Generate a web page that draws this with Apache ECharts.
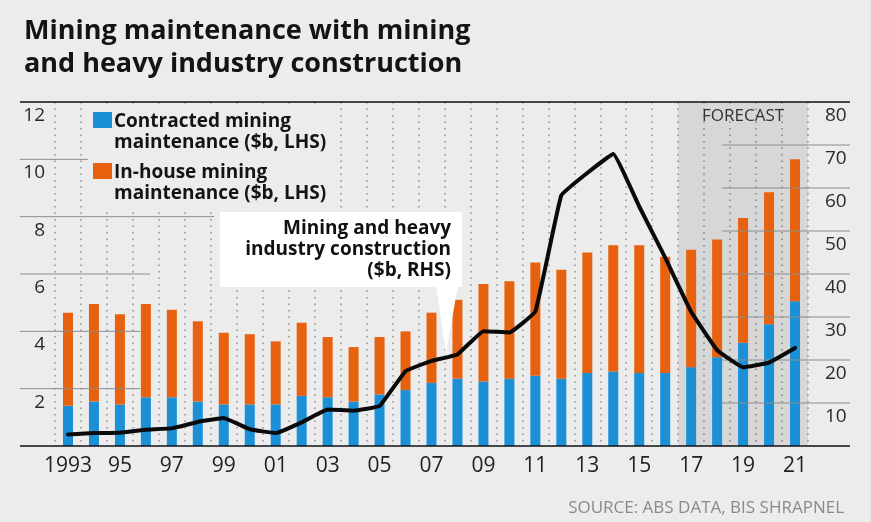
<!DOCTYPE html>
<html>
<head>
<meta charset="utf-8">
<script src="https://cdn.jsdelivr.net/npm/echarts@6/dist/echarts.min.js"></script>
<style>
  html, body { margin: 0; padding: 0; background: #ececec; }
  #chart { width: 871px; height: 522px; }
</style>
</head>
<body>
<div id="chart"></div>
<script>
// data
const years = ['1993', '1994', '1995', '1996', '1997', '1998', '1999', '2000', '2001', '2002',
  '2003', '2004', '2005', '2006', '2007', '2008', '2009', '2010', '2011', '2012',
  '2013', '2014', '2015', '2016', '2017', '2018', '2019', '2020', '2021']
// $b, left axis
const contracted = [1.4, 1.55, 1.45, 1.7, 1.7, 1.55, 1.45, 1.45, 1.45, 1.75,
  1.7, 1.55, 1.8, 1.95, 2.2, 2.35, 2.25, 2.35, 2.45, 2.35,
  2.55, 2.6, 2.55, 2.55, 2.75, 3.1, 3.6, 4.25, 5.05]
const inHouse = [3.25, 3.4, 3.15, 3.25, 3.05, 2.8, 2.5, 2.45, 2.2, 2.55,
  2.1, 1.9, 2.0, 2.05, 2.45, 2.75, 3.4, 3.4, 3.95, 3.8,
  4.2, 4.4, 4.45, 4.05, 4.1, 4.1, 4.35, 4.6, 4.95]
// $b, right axis
const construction = [2.7, 3.0, 3.1, 3.8, 4.1, 5.6, 6.5, 3.9, 3.0, 5.5,
  8.5, 8.2, 9.3, 17.4, 19.8, 21.3, 26.7, 26.4, 31.3, 58.3,
  63.5, 67.9, 55.7, 43.8, 31.2, 22.3, 18.3, 19.4, 22.8]
const forecastYears = ['2017', '2018', '2019', '2020', '2021']
const leftTicks = [2, 4, 6, 8, 10]
const rightTicks = [10, 20, 30, 40, 50, 60, 70]

const FONT = '"Open Sans", sans-serif'
const names = ['Contracted mining\nmaintenance ($b, LHS)', 'In-house mining\nmaintenance ($b, LHS)', 'Mining and heavy industry construction ($b, RHS)']
// square at the top of a two-line legend item
const legendIcon = 'path://M0,0h19v16h-19z M9,39.95h0.05v0.05h-0.05z'

const chart = echarts.init(document.getElementById('chart'))

chart.setOption({
  backgroundColor: '#ececec',
  animation: false,
  textStyle: {fontFamily: FONT},
  title: [
    {
      text: 'Mining maintenance with mining\nand heavy industry construction',
      left: 19,
      top: 10,
      textStyle: {fontSize: 27, fontWeight: 'bold', color: '#141414', lineHeight: 33, fontFamily: FONT}
    },
    {
      text: 'SOURCE: ABS DATA, BIS SHRAPNEL',
      right: 22,
      top: 495,
      textStyle: {fontSize: 17, fontWeight: 'normal', color: '#8a8a8a', fontFamily: FONT}
    }
  ],
  legend: {
    data: [names[0], names[1]],
    orient: 'vertical',
    left: 88,
    top: 105,
    padding: [6, 8, 6, 5],
    backgroundColor: '#ececec',
    itemWidth: 19,
    itemHeight: 40,
    itemGap: 9,
    icon: legendIcon,
    selectedMode: false,
    textStyle: {fontSize: 19, fontWeight: 'bold', color: '#141414', lineHeight: 21, padding: [0, 0, 0, -3]}
  },
  grid: {left: 55, right: 63, top: 102, bottom: 76},
  xAxis: [
    {
      type: 'category',
      data: years,
      boundaryGap: true,
      axisLine: {show: false},
      axisTick: {show: false},
      axisLabel: {
        interval: 1,
        margin: 10,
        fontSize: 21,
        color: '#222',
        formatter: (v, i) => i === 0 ? v : v.slice(2)
      },
      splitLine: {show: true, interval: 0, lineStyle: {color: '#8f8f8f', width: 1.5, type: [1.5, 5]}}
    },
    {
      type: 'category',
      data: years,
      show: false
    }
  ],
  yAxis: [
    {
      type: 'value',
      min: 0,
      max: 12,
      interval: 2,
      position: 'left',
      splitLine: {show: false},
      axisLabel: {
        showMinLabel: false,
        verticalAlign: 'top',
        padding: [4, 0, 0, 0],
        margin: 10,
        fontSize: 19,
        color: '#2a2a2a'
      }
    },
    {
      type: 'value',
      min: 0,
      max: 80,
      interval: 10,
      position: 'right',
      splitLine: {show: false},
      axisLabel: {
        showMinLabel: false,
        verticalAlign: 'top',
        padding: [4, 0, 0, 0],
        margin: 17,
        fontSize: 19,
        color: '#2a2a2a'
      }
    }
  ],
  series: [
    {
      name: 'forecast',
      type: 'bar',
      xAxisIndex: 1,
      yAxisIndex: 0,
      barWidth: '100%',
      z: 1,
      silent: true,
      itemStyle: {color: 'rgba(0,0,0,0.085)'},
      data: years.map(y => forecastYears.includes(y) ? 12 : '-')
    },
    {
      name: names[0],
      type: 'bar',
      stack: 'maint',
      barWidth: 10,
      itemStyle: {color: '#1b90d7'},
      data: contracted
    },
    {
      name: names[1],
      type: 'bar',
      stack: 'maint',
      barWidth: 10,
      itemStyle: {color: '#e8610f'},
      data: inHouse
    },
    {
      name: names[2],
      type: 'line',
      yAxisIndex: 1,
      smooth: 0.08,
      symbol: 'none',
      z: 6,
      lineStyle: {color: '#0a0a0a', width: 4, cap: 'round', join: 'round'},
      data: construction
    }
  ]
})

// rules, partial grid lines and the callouts, placed from the axis scales
const yL = v => chart.convertToPixel({yAxisIndex: 0}, v)
const yR = v => chart.convertToPixel({yAxisIndex: 1}, v)
const leftEnds = {2: 140, 4: 140, 6: 150, 8: 214, 10: 90}
const els = []
els.push({type: 'line', z: 5, shape: {x1: 20, y1: yL(12), x2: 850, y2: yL(12)}, style: {stroke: '#111', lineWidth: 1.5}})
els.push({type: 'line', z: 5, shape: {x1: 20, y1: yL(0), x2: 850, y2: yL(0)}, style: {stroke: '#111', lineWidth: 1.5}})
leftTicks.forEach(v => {
  els.push({type: 'line', z: 3, shape: {x1: 20, y1: yL(v), x2: leftEnds[v], y2: yL(v)}, style: {stroke: '#8c8c8c', lineWidth: 1}})
})
rightTicks.forEach(v => {
  els.push({type: 'line', z: 3, shape: {x1: 722, y1: yR(v), x2: 850, y2: yR(v)}, style: {stroke: '#8c8c8c', lineWidth: 1}})
})
els.push({
  type: 'text', z: 5,
  x: chart.convertToPixel({xAxisIndex: 0}, '2019'),
  y: yL(12) + 14,
  style: {text: 'FORECAST', fill: '#333', font: '17px ' + FONT, textAlign: 'center', textVerticalAlign: 'middle'}
})
// callout for the line
els.push({type: 'polygon', z: 5, shape: {points: [[436, 285], [458, 285], [446, 354]]}, style: {fill: '#fff'}})
els.push({type: 'rect', z: 5, shape: {x: 220, y: 212, width: 242, height: 75}, style: {fill: '#fff'}})
els.push({
  type: 'text', z: 6, x: 451, y: 218,
  style: {
    text: 'Mining and heavy\nindustry construction\n($b, RHS)',
    fill: '#111', font: 'bold 19px ' + FONT, lineHeight: 21, textAlign: 'right'
  }
})
chart.setOption({graphic: {elements: els}})
</script>
</body>
</html>
